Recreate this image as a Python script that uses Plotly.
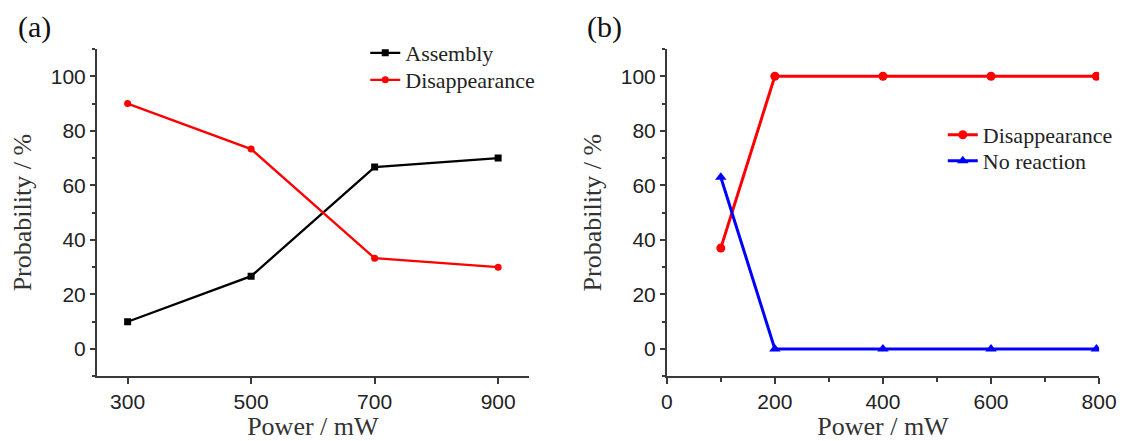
import plotly.graph_objects as go

# Panel (a): assembly vs disappearance probability against laser power
power_a = [300, 500, 700, 900]
assembly_a = [10, 26.7, 66.7, 70]
disappear_a = [90, 73.3, 33.3, 30]

# Panel (b): disappearance vs no reaction
power_b = [100, 200, 400, 600, 795]
disappear_b = [37, 100, 100, 100, 100]
noreact_b = [63, 0, 0, 0, 0]

W, H = 1137, 441
SERIF = "Liberation Serif, Times New Roman, serif"
SANS = "Liberation Sans, Arial, sans-serif"
AX = "#3a3a3a"

fig = go.Figure()

fig.add_trace(go.Scatter(x=power_a, y=assembly_a, name="Assembly", mode="lines+markers",
                         line=dict(color="black", width=2.3),
                         marker=dict(symbol="square", size=7, color="black"),
                         xaxis="x", yaxis="y", legend="legend"))
fig.add_trace(go.Scatter(x=power_a, y=disappear_a, name="Disappearance", mode="lines+markers",
                         line=dict(color="#ff0000", width=2.3),
                         marker=dict(symbol="circle", size=7, color="#ff0000"),
                         xaxis="x", yaxis="y", legend="legend2"))
fig.add_trace(go.Scatter(x=power_b, y=disappear_b, name="Disappearance", mode="lines+markers",
                         line=dict(color="#ff0000", width=3),
                         marker=dict(symbol="circle", size=9, color="#ff0000"),
                         xaxis="x2", yaxis="y2", legend="legend3"))
fig.add_trace(go.Scatter(x=power_b, y=noreact_b, name="No reaction", mode="lines+markers",
                         line=dict(color="#0000ff", width=3),
                         marker=dict(symbol="triangle-up", size=10, color="#0000ff"),
                         xaxis="x2", yaxis="y2", legend="legend4"))

ydom = [(H - 376.3) / H, (H - 49) / H]

common_y = dict(range=[-10, 110], tickvals=[0, 20, 40, 60, 80, 100], showgrid=False,
                zeroline=False, showline=True, linecolor=AX, linewidth=1.5,
                ticks="outside", ticklen=5, tickcolor=AX, tickwidth=1.5,
                minor=dict(ticks="outside", ticklen=3, tickcolor=AX, dtick=10, tick0=-10, showgrid=False),
                tickfont=dict(family=SANS, size=21, color="#222"),
                title=dict(text="Probability / %", font=dict(family=SERIF, size=26, color="#333"), standoff=12),
                domain=ydom)
common_x = dict(showgrid=False, zeroline=False, showline=True, linecolor=AX, linewidth=1.5,
                ticks="outside", ticklen=6, tickcolor=AX, tickwidth=1.5,
                tickfont=dict(family=SANS, size=21, color="#222"),
                title=dict(text="Power / mW", font=dict(family=SERIF, size=26, color="#333"), standoff=6))


def legend_box(left_px, top_px):
    return dict(x=left_px / W, y=(H - top_px) / H, xanchor="left", yanchor="top",
                bgcolor="rgba(0,0,0,0)", font=dict(family=SERIF, size=22, color="#222"),
                itemwidth=30)


fig.update_layout(
    width=W, height=H,
    showlegend=True,
    margin=dict(l=0, r=0, t=0, b=0),
    paper_bgcolor="white", plot_bgcolor="white",
    xaxis=dict(common_x, range=[250, 950], tickvals=power_a,
               domain=[92.7 / W, 534.3 / W], anchor="y"),
    yaxis=dict(common_y, anchor="x"),
    xaxis2=dict(common_x, range=[0, 800], tickvals=[0, 200, 400, 600, 800],
                minor=dict(ticks="outside", ticklen=4, tickcolor=AX, dtick=100, showgrid=False),
                domain=[675 / W, 1116.7 / W], anchor="y2"),
    yaxis2=dict(common_y, anchor="x2"),
    legend=legend_box(367, 32),
    legend2=legend_box(367, 59),
    legend3=legend_box(957, 114),
    legend4=legend_box(957, 140),
    annotations=[
        dict(text="(a)", x=10 / W, y=(H - 27) / H, xref="paper", yref="paper",
             xanchor="left", yanchor="middle", showarrow=False,
             font=dict(family=SERIF, size=30, color="#111")),
        dict(text="(b)", x=591 / W, y=(H - 27) / H, xref="paper", yref="paper",
             xanchor="left", yanchor="middle", showarrow=False,
             font=dict(family=SERIF, size=30, color="#111")),
    ],
)

fig.write_html("out.html")
